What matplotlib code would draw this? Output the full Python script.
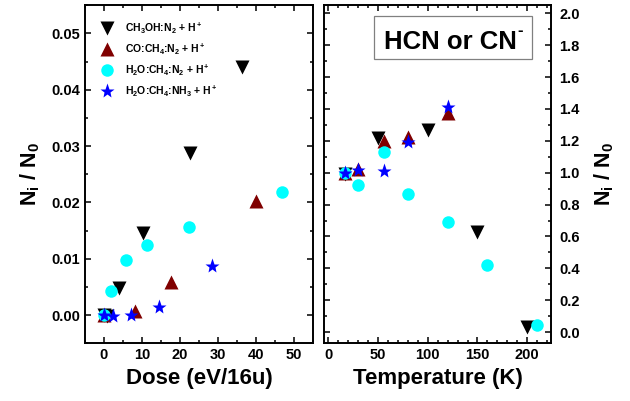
import matplotlib
matplotlib.use('Agg')
import matplotlib.pyplot as plt
from matplotlib.patches import Rectangle
from matplotlib.ticker import MultipleLocator

plt.rcParams['font.family'] = ['Liberation Sans', 'DejaVu Sans']
plt.rcParams['font.weight'] = 'bold'
plt.rcParams['mathtext.fontset'] = 'custom'
plt.rcParams['mathtext.rm'] = 'Liberation Sans:bold'
plt.rcParams['mathtext.bf'] = 'Liberation Sans:bold'
plt.rcParams['mathtext.it'] = 'Liberation Sans:bold'
plt.rcParams['mathtext.default'] = 'bf'

# %% data -- left panel (dose)
dose_ch3oh = [0, 0.7, 4.0, 10.3, 22.6, 36.2]
val_ch3oh = [0.0, -0.0002, 0.0048, 0.0146, 0.0287, 0.0440]
dose_co = [0, 8.2, 17.6, 40.0]
val_co = [0.0, 0.0008, 0.0059, 0.0203]
dose_h2o_n2 = [0, 1.8, 5.8, 11.2, 22.4, 46.8]
val_h2o_n2 = [0.0, 0.0042, 0.0097, 0.0125, 0.0156, 0.0219]
dose_h2o_nh3 = [0, 2.4, 7.0, 14.5, 28.3]
val_h2o_nh3 = [0.0, -0.0001, 0.0, 0.0014, 0.0087]

# right panel (temperature)
temp_ch3oh = [17, 50, 100, 150, 200]
rel_ch3oh = [0.99, 1.215, 1.27, 0.63, 0.034]
temp_co = [17, 30, 56, 80, 120]
rel_co = [1.0, 1.025, 1.20, 1.227, 1.374]
temp_h2o_n2 = [17, 30, 56, 80, 120, 160, 210]
rel_h2o_n2 = [1.0, 0.923, 1.13, 0.868, 0.693, 0.42, 0.046]
temp_h2o_nh3 = [17, 30, 56, 80, 120]
rel_h2o_nh3 = [1.0, 1.015, 1.012, 1.19, 1.41]

labels = [r'CH$_3$OH:N$_2$ + H$^+$', r'CO:CH$_4$:N$_2$ + H$^+$',
          r'H$_2$O:CH$_4$:N$_2$ + H$^+$', r'H$_2$O:CH$_4$:NH$_3$ + H$^+$']

styles = [dict(marker='v', color='black', ms=9.5),
          dict(marker='^', color='#800000', ms=9.5),
          dict(marker='o', color='#00FFFF', ms=9),
          dict(marker='*', color='#0000FF', ms=11)]

# %%
fig = plt.figure(figsize=(6.3, 4.01), dpi=100)
ax1 = fig.add_axes([85 / 630, 57.7 / 401, 228 / 630, 338 / 401])
ax2 = fig.add_axes([324 / 630, 57.7 / 401, 227 / 630, 338 / 401])

left_data = [(dose_ch3oh, val_ch3oh), (dose_co, val_co),
             (dose_h2o_n2, val_h2o_n2), (dose_h2o_nh3, val_h2o_nh3)]
right_data = [(temp_ch3oh, rel_ch3oh), (temp_co, rel_co),
              (temp_h2o_n2, rel_h2o_n2), (temp_h2o_nh3, rel_h2o_nh3)]

for (x, y), st, lab in zip(left_data, styles, labels):
    ax1.plot(x, y, ls='none', mec='none', label=lab, **st)
for (x, y), st in zip(right_data, styles):
    ax2.plot(x, y, ls='none', mec='none', **st)

ax1.set_xlim(-5, 55)
ax1.set_ylim(-0.005, 0.055)
ax1.xaxis.set_major_locator(MultipleLocator(10))
ax1.xaxis.set_minor_locator(MultipleLocator(5))
ax1.yaxis.set_major_locator(MultipleLocator(0.01))
ax1.yaxis.set_minor_locator(MultipleLocator(0.005))
ax1.yaxis.set_major_formatter(plt.FormatStrFormatter('%.2f'))
ax1.set_xlabel('Dose (eV/16u)', fontsize=16, fontweight='bold')
ax1.set_ylabel(r'N$_i$ / N$_0$', fontsize=15.5, fontweight='bold', labelpad=7)

ax2.set_xlim(-4.5, 224)
ax2.set_ylim(-0.07, 2.05)
ax2.xaxis.set_major_locator(MultipleLocator(50))
ax2.xaxis.set_minor_locator(MultipleLocator(10))
ax2.yaxis.set_major_locator(MultipleLocator(0.2))
ax2.yaxis.set_minor_locator(MultipleLocator(0.1))
ax2.yaxis.set_major_formatter(plt.FormatStrFormatter('%.1f'))
ax2.yaxis.set_label_position('right')
ax2.set_xlabel('Temperature (K)', fontsize=16, fontweight='bold')
ax2.set_ylabel(r'N$_i$ / N$_0$', fontsize=15.5, fontweight='bold',
               rotation=90, labelpad=9)

for ax in (ax1, ax2):
    for sp in ax.spines.values():
        sp.set_linewidth(1.4)
    ax.tick_params(which='both', direction='in', top=True, right=True,
                   labelsize=10.5, width=1.1)
    ax.tick_params(which='major', length=4.5)
    ax.tick_params(which='minor', length=2.5)
    for t in ax.get_xticklabels() + ax.get_yticklabels():
        t.set_fontweight('bold')

ax2.tick_params(axis='y', labelleft=False, labelright=True, pad=6)

# label box "HCN or CN-"
ax2.add_patch(Rectangle((0.220, 0.840), 0.696, 0.128, transform=ax2.transAxes,
                        fc='white', ec='gray', lw=0.9, zorder=3))
ax2.text(0.558, 0.870, 'HCN or CN', transform=ax2.transAxes,
         ha='center', va='baseline', fontsize=18.5, fontweight='bold', zorder=4)
ax2.text(0.866, 0.926, '-', transform=ax2.transAxes,
         ha='center', va='center', fontsize=12, fontweight='bold', zorder=4)

leg = ax1.legend(loc='upper left', frameon=False, prop=dict(weight='bold', size=7.5),
                 handletextpad=1.1, labelspacing=0.56, borderaxespad=0.5,
                 handlelength=1.2, borderpad=1.0)

fig.savefig('out.png', dpi=100)
